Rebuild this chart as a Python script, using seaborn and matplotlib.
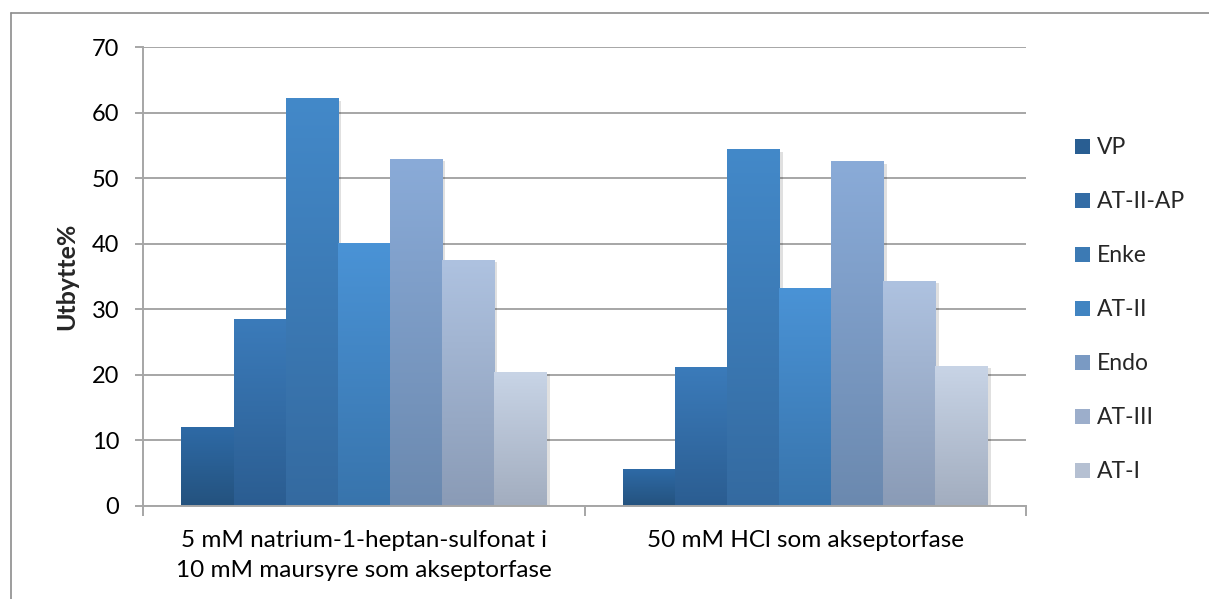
import numpy as np
import pandas as pd
import matplotlib
matplotlib.use("Agg")
import matplotlib.pyplot as plt
import matplotlib.colors as mcolors
from matplotlib.patches import Patch
from matplotlib.lines import Line2D
import matplotlib.patheffects as pe
import seaborn as sns

# ---- data ----
categories = ["5 mM natrium-1-heptan-sulfonat i\n10 mM maursyre som akseptorfase",
              "50 mM HCl som akseptorfase"]
series = ["VP", "AT-II-AP", "Enke", "AT-II", "Endo", "AT-III", "AT-I"]
values_group1 = [11.9, 28.4, 62.1, 40.1, 52.9, 37.5, 20.4]
values_group2 = [5.5, 21.1, 54.3, 33.2, 52.5, 34.3, 21.3]
y_ticks = [0, 10, 20, 30, 40, 50, 60, 70]
y_label = "Utbytte%"

# gradient colours (top, bottom) per series
top_colors = ["#2E6AA6", "#3B7BBA", "#4389C9", "#4A93D6", "#8AABD8", "#AEC2E0", "#C8D4E6"]
bottom_colors = ["#24527E", "#2B5D91", "#346AA0", "#3874AC", "#6B89AF", "#8A9BB6", "#A2ADBF"]

df = pd.DataFrame({
    "category": [categories[0]] * len(series) + [categories[1]] * len(series),
    "series": series * 2,
    "value": values_group1 + values_group2,
})

sns.set_theme(style="white")
plt.rcParams["font.family"] = ["Lato", "DejaVu Sans"]

W, H = 1209, 599
fig = plt.figure(figsize=(W / 100, H / 100), dpi=100)
ax = fig.add_axes([143 / W, 1 - 506 / H, (1026 - 143) / W, (506 - 47) / H])

mid_colors = [mcolors.to_hex(0.5 * np.array(mcolors.to_rgb(t)) + 0.5 * np.array(mcolors.to_rgb(b)))
              for t, b in zip(top_colors, bottom_colors)]

sns.barplot(data=df, x="category", y="value", hue="series", hue_order=series,
            order=categories, palette=mid_colors, width=0.826, gap=0,
            saturation=1, legend=False, ax=ax, linewidth=0, zorder=1.2)

# gradient overlay per bar
for i, cont in enumerate(ax.containers):
    t = np.array(mcolors.to_rgb(top_colors[i]))
    b = np.array(mcolors.to_rgb(bottom_colors[i]))
    frac = np.linspace(0, 1, 256)[:, None]
    grad = (t[None, :] * (1 - frac) + b[None, :] * frac)[:, None, :]
    for p in cont.patches:
        x0 = p.get_x(); w = p.get_width(); h = p.get_height()
        p.set_path_effects([pe.SimplePatchShadow(offset=(2.5, -1.5), shadow_rgbFace="#000000", alpha=0.12),
                            pe.Normal()])
        ax.imshow(grad, extent=[x0, x0 + w, 0, h], aspect="auto", zorder=1.5,
                  interpolation="bilinear")

ax.set_xlim(-0.5, 1.5)
ax.set_ylim(0, 70)

# grid and spines
grid_c = "#A6A6A6"
ax.set_axisbelow(True)
ax.yaxis.grid(True, color=grid_c, linewidth=1.4)
ax.xaxis.grid(False)
for s in ["top", "right"]:
    ax.spines[s].set_visible(False)
for s in ["left", "bottom"]:
    ax.spines[s].set_color(grid_c)
    ax.spines[s].set_linewidth(1.4)

ax.set_yticks(y_ticks)
ax.set_yticklabels([str(v) for v in y_ticks], fontsize=17, color="#000000")
ax.tick_params(axis="y", length=6, width=1.4, color=grid_c, pad=11, left=True)

ax.set_xticks([-0.5, 0.5, 1.5])
ax.set_xticklabels(["", "", ""])
ax.set_xticks([0, 1], minor=True)
ax.set_xticklabels(categories, minor=True, fontsize=17.5, color="#000000", linespacing=1.55)
ax.tick_params(axis="x", which="major", length=7, width=1.4, color=grid_c, bottom=True)
ax.tick_params(axis="x", which="minor", length=0, pad=17, bottom=True)
for lbl in ax.get_xticklabels(minor=True):
    lbl.set_verticalalignment("top")

ax.set_xlabel("")
ax.set_ylabel(y_label, fontsize=18, fontweight="bold", labelpad=10)

# legend
handles = [Patch(facecolor=c, edgecolor="none") for c in mid_colors]
fig.legend(handles, series, loc="center left", bbox_to_anchor=(1075 / W, 1 - 310 / H),
           frameon=False, fontsize=16.5, labelspacing=1.44, handlelength=0.66,
           handleheight=0.66, handletextpad=0.3, borderpad=0, borderaxespad=0)

# outer chart border (top and left visible)
bc = "#8C8C8C"
fig.add_artist(Line2D([11 / W, 1], [1 - 12.5 / H, 1 - 12.5 / H], color=bc, linewidth=1.2))
fig.add_artist(Line2D([11 / W, 11 / W], [0, 1 - 12.5 / H], color=bc, linewidth=1.2))

fig.savefig("out.png", dpi=100, facecolor="white")
